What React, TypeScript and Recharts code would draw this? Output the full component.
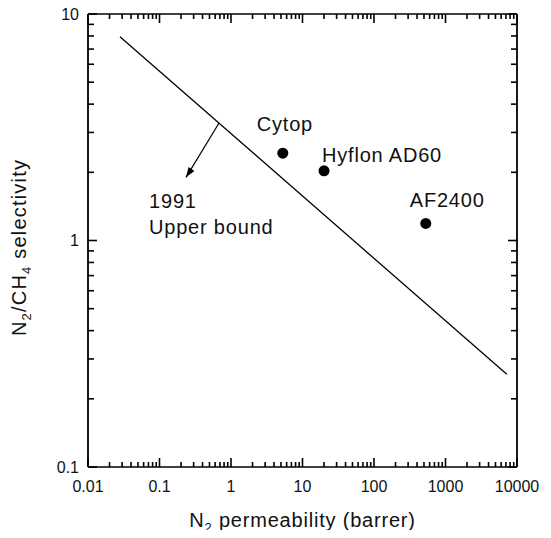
import React from 'react';
import { ComposedChart, Scatter, XAxis, YAxis, Label } from 'recharts';

const polymers = ['Cytop', 'Hyflon AD60', 'AF2400'];
const n2Permeability = [5.3, 20, 530];
const n2Ch4Selectivity = [2.43, 2.03, 1.19];

// 1991 upper bound end points
const boundPermeability = [0.028, 7200];
const boundSelectivity = [7.93, 0.257];

// arrow pointing below the bound
const arrowPermeability = [0.68, 0.235];
const arrowSelectivity = [3.3, 1.9];

const xTickLabels = ['0.01', '0.1', '1', '10', '100', '1000', '10000'];
const yTickLabels = ['0.1', '1', '10'];

const FONT = '"Liberation Sans", Arial, Helvetica, sans-serif';
const INK = '#000';

const xDecades = xTickLabels.map(Number);
const yDecades = yTickLabels.map(Number);

const withMinor = (decades: number[]) => {
  const out: number[] = [];
  decades.forEach((d, i) => {
    out.push(d);
    if (i < decades.length - 1) {
      for (let k = 2; k <= 9; k++) out.push(+(d * k).toPrecision(6));
    }
  });
  return out;
};
const xTicks = withMinor(xDecades);
const yTicks = withMinor(yDecades);

const decadeIndex = (v: number, decades: number[]) =>
  decades.findIndex((d) => Math.abs(v / d - 1) < 1e-6);

const pointData = polymers.map((name, i) => ({ name, perm: n2Permeability[i], sel: n2Ch4Selectivity[i] }));
const boundData = boundPermeability.map((perm, i) => ({ perm, sel: boundSelectivity[i] }));
const arrowData = arrowPermeability.map((perm, i) => ({ perm, sel: arrowSelectivity[i] }));

const labelOffsets: Record<string, { dx: number; dy: number }> = {
  Cytop: { dx: -26, dy: -22 },
  'Hyflon AD60': { dx: -2, dy: -9 },
  AF2400: { dx: -16, dy: -16 },
};

const textStyle = { fontFamily: FONT, fontSize: 20, letterSpacing: 0.8, fill: '#111' };
const TICK_W = 1.6;

// inward tick marks, drawn from the axis line into the plot
const AxisTick = (props: any) => {
  const { x, y, payload, orientation } = props;
  const vertical = orientation === 'left' || orientation === 'right';
  const idx = decadeIndex(payload.value, vertical ? yDecades : xDecades);
  const len = idx >= 0 ? 9 : vertical ? 6 : 5;
  const dir: Record<string, [number, number]> = {
    top: [0, 1],
    bottom: [0, -1],
    left: [1, 0],
    right: [-1, 0],
  };
  const [dx, dy] = dir[orientation] || [0, 0];
  return (
    <g>
      <line x1={x} y1={y} x2={x + dx * len} y2={y + dy * len} stroke={INK} strokeWidth={TICK_W} />
      {idx >= 0 && orientation === 'bottom' && (
        <text x={x} y={y + 25} textAnchor="middle" fontFamily={FONT} fontSize={16} fill="#111">
          {xTickLabels[idx]}
        </text>
      )}
      {idx >= 0 && orientation === 'left' && (
        <text x={x - 9} y={y} dy="0.36em" textAnchor="end" fontFamily={FONT} fontSize={16} fill="#111">
          {yTickLabels[idx]}
        </text>
      )}
    </g>
  );
};

const XTitle = (props: any) => {
  const { x, y, width } = props.viewBox;
  return (
    <text x={x + width / 2} y={y + 60} textAnchor="middle" {...textStyle}>
      N<tspan fontSize={13} dy={5}>2</tspan>
      <tspan dy={-5}> permeability (barrer)</tspan>
    </text>
  );
};

const YTitle = (props: any) => {
  const { y, height } = props.viewBox;
  const cx = 26;
  const cy = y + height / 2 + 7;
  return (
    <text
      x={cx}
      y={cy}
      textAnchor="middle"
      transform={`rotate(-90 ${cx} ${cy})`}
      {...textStyle}
      letterSpacing={1.2}
    >
      N<tspan fontSize={13} dy={5}>2</tspan>
      <tspan dy={-5}>/CH</tspan>
      <tspan fontSize={13} dy={5}>4</tspan>
      <tspan dy={-5}> selectivity</tspan>
    </text>
  );
};

const PolymerDot = (props: any) => {
  const { cx, cy, payload } = props;
  const off = labelOffsets[payload.name] || { dx: 8, dy: -8 };
  return (
    <g>
      <circle cx={cx} cy={cy} r={5.5} fill={INK} />
      <text x={cx + off.dx} y={cy + off.dy} {...textStyle}>
        {payload.name}
      </text>
    </g>
  );
};

const NoDot = () => <g />;

// arrow head + "1991 Upper bound" note at the arrow tip
const ArrowTip = (props: any) => {
  const { cx, cy, payload } = props;
  if (payload.perm !== arrowPermeability[1]) return <g />;
  return (
    <g>
      <polygon
        points="0,0 -10,-3.5 -10,3.5"
        fill={INK}
        transform={`translate(${cx} ${cy}) rotate(123)`}
      />
      <text x={cx - 37} y={cy + 31} {...textStyle}>1991</text>
      <text x={cx - 37} y={cy + 57} {...textStyle}>Upper bound</text>
    </g>
  );
};

const logX = {
  dataKey: 'perm',
  type: 'number' as const,
  scale: 'log' as const,
  domain: [0.01, 10000],
  allowDataOverflow: true,
  ticks: xTicks,
  interval: 0,
  tickSize: 0,
  tickMargin: 0,
  tick: <AxisTick />,
  tickLine: false,
  axisLine: { stroke: INK, strokeWidth: 1.6 },
};

const logY = {
  dataKey: 'sel',
  type: 'number' as const,
  scale: 'log' as const,
  domain: [0.1, 10],
  allowDataOverflow: true,
  ticks: yTicks,
  interval: 0,
  tickSize: 0,
  tickMargin: 0,
  tick: <AxisTick />,
  tickLine: false,
  axisLine: { stroke: INK, strokeWidth: 1.8 },
};

export default function App() {
  return (
    <div style={{ width: 551, height: 538, margin: -8 }}>
      <ComposedChart width={551} height={538} margin={{ top: 13, right: 33, bottom: 0, left: 0 }}>
        <XAxis xAxisId="bottom" {...logX} height={71}>
          <Label content={<XTitle />} />
        </XAxis>
        <XAxis xAxisId="top" orientation="top" {...logX} height={1} />
        <YAxis yAxisId="left" {...logY} width={88}>
          <Label content={<YTitle />} />
        </YAxis>
        <YAxis yAxisId="right" orientation="right" {...logY} width={1} />
        <Scatter
          xAxisId="bottom"
          yAxisId="left"
          data={boundData}
          fill={INK}
          line={{ stroke: INK, strokeWidth: 1.3 }}
          shape={<NoDot />}
          isAnimationActive={false}
        />
        <Scatter
          xAxisId="bottom"
          yAxisId="left"
          data={arrowData}
          fill={INK}
          line={{ stroke: INK, strokeWidth: 1.2 }}
          shape={<ArrowTip />}
          isAnimationActive={false}
        />
        <Scatter
          xAxisId="bottom"
          yAxisId="left"
          data={pointData}
          fill={INK}
          shape={<PolymerDot />}
          isAnimationActive={false}
        />
      </ComposedChart>
    </div>
  );
}
